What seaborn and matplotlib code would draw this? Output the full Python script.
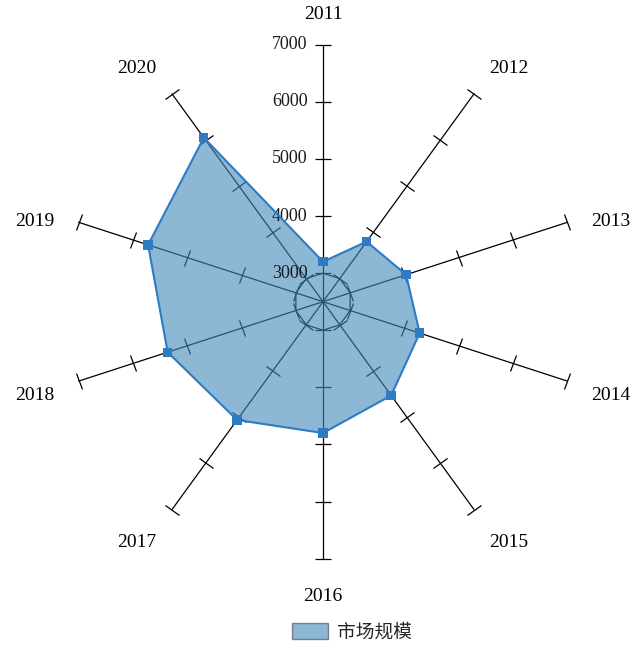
import numpy as np
import pandas as pd
import seaborn as sns
import matplotlib.pyplot as plt
from matplotlib.markers import MarkerStyle
from matplotlib.transforms import Affine2D

years = ['2011', '2012', '2013', '2014', '2015', '2016', '2017', '2018', '2019', '2020']
market = [3200, 3800, 4030, 4280, 4530, 4800, 5060, 5360, 5720, 6050]
r_ticks = [3000, 4000, 5000, 6000, 7000]
r_min, r_max = 2500, 7000
series_name = '市场规模'

sns.set_theme(style='white')
plt.rcParams['font.family'] = ['Liberation Serif', 'DejaVu Sans']

fill_c = '#3F8ABB'
line_c = '#2E7BC4'
px = 0.72  # points per pixel at dpi 100

n = len(years)
theta = np.linspace(0, 2 * np.pi, n, endpoint=False)
df = pd.DataFrame({'year': years, 'theta': theta, 'value': market})
closed = pd.concat([df, df.iloc[[0]]], ignore_index=True)
closed.loc[n, 'theta'] = 2 * np.pi

fig = plt.figure(figsize=(6.4, 6.51), dpi=100)
R = 257
ax = fig.add_axes([(323 - R) / 640, (651 - 301.7 - R) / 651, 2 * R / 640, 2 * R / 651],
                  projection='polar')
ax.set_theta_zero_location('N')
ax.set_theta_direction(-1)
ax.set_ylim(r_min, r_max)
ax.grid(False)
ax.spines['polar'].set_visible(False)
ax.set_xticks([])
ax.set_yticks([])

# spokes with perpendicular tick marks
for th in theta:
    ax.plot([th, th], [r_min, r_max], color='black', lw=0.9, zorder=1, clip_on=False)
    phi = 90 - np.degrees(th)
    mk = MarkerStyle('|', transform=Affine2D().rotate_deg(phi))
    ax.plot([th] * len(r_ticks), r_ticks, linestyle='none', marker=mk,
            markersize=12, markeredgewidth=0.9, color='black', zorder=1, clip_on=False)

# inner gridline polygon at 3000
ax.plot(np.append(theta, 2 * np.pi), [r_ticks[0]] * (n + 1), color='black', lw=0.9, zorder=1)

# radial tick labels on the top spoke
for v in r_ticks:
    ax.annotate(str(v), xy=(0, v), xytext=(-11, 0), textcoords='offset points',
                ha='right', va='center', fontsize=13, color='#1a1a1a')

# filled area, outline and markers
ax.fill(closed['theta'], closed['value'], color=fill_c, alpha=0.6, lw=0,
        label=series_name, zorder=2)
sns.lineplot(data=closed, x='theta', y='value', sort=False, estimator=None,
             color=line_c, lw=1.5, ax=ax, zorder=3, legend=False)
sns.scatterplot(data=df, x='theta', y='value', marker='s', s=45, color=line_c,
                edgecolor='none', ax=ax, zorder=4, legend=False)
ax.set_xlabel('')
ax.set_ylabel('')

# category labels, placed beside the end of each spoke
for th, yr in zip(theta, years):
    ux, uy = np.sin(th), np.cos(th)
    dx = 25 * ux + (20 * np.sign(ux) if abs(ux) > 0.1 else 0)
    dy = 25 * uy + (9 * np.sign(uy) if abs(uy) > 0.5 else -3) - 4
    ax.annotate(yr, xy=(th, r_max), xytext=(dx * px, dy * px), textcoords='offset points',
                ha='center', va='center', fontsize=14, color='black', annotation_clip=False)

leg = fig.legend(loc='center', bbox_to_anchor=(352 / 640, 19 / 651), frameon=False,
                 prop={'family': ['Noto Sans CJK SC', 'DejaVu Sans'], 'size': 13.5},
                 handlelength=1.9, handleheight=0.9, handletextpad=0.5)
for h in leg.legend_handles:
    h.set_edgecolor('#404040')
    h.set_linewidth(1.0)

fig.savefig('out.png', dpi=100)
